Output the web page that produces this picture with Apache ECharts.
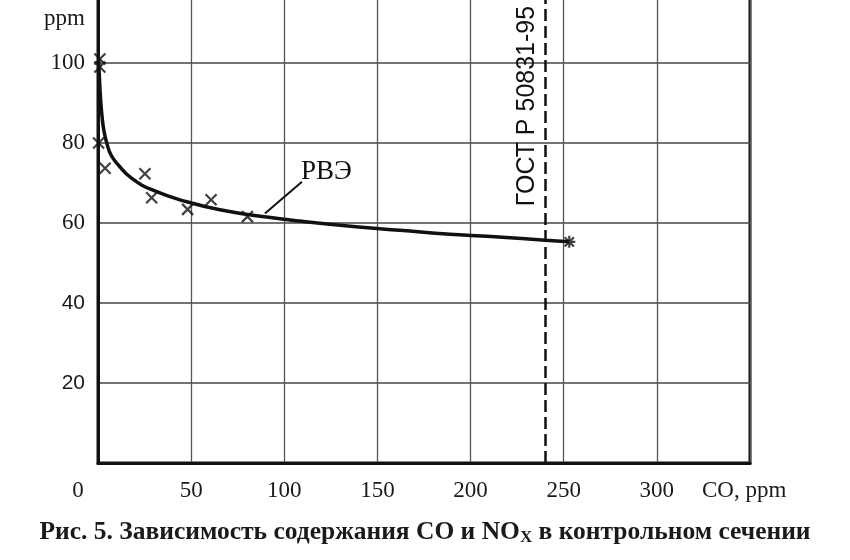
<!DOCTYPE html>
<html>
<head>
<meta charset="utf-8">
<title>CO и NOx</title>
<script src="https://cdn.jsdelivr.net/npm/echarts@6/dist/echarts.min.js"></script>
<style>
html, body { margin: 0; padding: 0; background: #fff; overflow: hidden; }
/* верх сетки уходит за край кадра, как на скане */
#chart { position: absolute; left: 0; top: -17px; width: 850px; height: 577px; }
</style>
</head>
<body>
<div id="chart"></div>
<script>
// кривая РВЭ
const curveCO = [0.4, 0.8, 1.4, 2.2, 3.2, 4.7, 7, 10.9, 18, 29.5, 47.6, 69, 90.5, 108, 140, 162, 189, 215, 240, 253]
const curveNOx = [101, 96, 91, 86.5, 83, 80, 77, 74.5, 71.2, 68.2, 65.3, 63, 61.5, 60.5, 59, 58.2, 57.2, 56.5, 55.7, 55.3]

// замеры (крестики)
const pointsCO = [1, 1, 0.3, 3.8, 25.2, 28.8, 48.1, 60.7, 80.2]
const pointsNOx = [101, 99, 80, 73.7, 72.3, 66.3, 63.4, 65.8, 61.6]

// последняя точка кривой
const endCO = [253]
const endNOx = [55.3]

// норматив
const gostCO = 240
const gostText = 'ГОСТ Р 50831-95'
const curveName = 'РВЭ'

const serif = '"Liberation Serif", "DejaVu Serif", serif'
const sans = '"Liberation Sans", Arial, sans-serif'

const cross = 'path://M0,0L10,10M10,0L0,10'
const star = 'path://M0,0L10,10M10,0L0,10M5,-1.5L5,11.5M-1.5,5L11.5,5'

const zip = (xs, ys) => xs.map((x, i) => [x, ys[i]])

let chart = echarts.init(document.getElementById('chart'))

let option = {
  backgroundColor: '#fff',
  animation: false,
  title: {
    text: '{a|Рис. 5. Зависимость содержания CO и NO}{s|X}{a| в контрольном сечении}',
    left: 'center',
    top: 531,
    textStyle: {
      rich: {
        a: { fontFamily: serif, fontSize: 25.5, fontWeight: 'bold', color: '#1a1a1a' },
        s: { fontFamily: serif, fontSize: 17, fontWeight: 'bold', color: '#1a1a1a', verticalAlign: 'bottom', padding: [10, 0, 0, 0] }
      }
    }
  },
  grid: {
    left: 98,
    right: 100,
    top: 0,
    bottom: 97,
    show: true,
    borderColor: '#111',
    borderWidth: 3
  },
  xAxis: {
    type: 'value',
    min: 0,
    max: 350,
    interval: 50,
    name: 'CO, ppm',
    nameLocation: 'end',
    nameGap: -48,
    nameTextStyle: {
      fontFamily: serif, fontSize: 23, color: '#1a1a1a',
      align: 'left', verticalAlign: 'top', padding: [16, 0, 0, 0]
    },
    axisLine: { lineStyle: { color: '#111', width: 3 } },
    axisTick: { show: false },
    splitLine: { lineStyle: { color: '#555', width: 1.3 } },
    axisLabel: {
      margin: 16,
      showMaxLabel: false,
      formatter: v => v === 0 ? '{z|0}' : '{n|' + v + '}',
      rich: {
        z: { fontFamily: serif, fontSize: 23, color: '#1a1a1a', padding: [0, 40, 0, 0] },
        n: { fontFamily: serif, fontSize: 23, color: '#1a1a1a' }
      }
    }
  },
  yAxis: {
    type: 'value',
    min: 0,
    max: 120,
    interval: 20,
    name: 'ppm',
    nameLocation: 'end',
    nameGap: -36,
    nameTextStyle: {
      fontFamily: serif, fontSize: 23, color: '#1a1a1a',
      align: 'right', verticalAlign: 'middle', padding: [0, 13, 0, 0]
    },
    axisLine: { lineStyle: { color: '#111', width: 3 } },
    axisTick: { show: false },
    splitLine: { lineStyle: { color: '#444', width: 1.6 } },
    axisLabel: {
      margin: 13,
      showMinLabel: false,
      showMaxLabel: false,
      formatter: v => v <= 40 ? '{s|' + v + '}' : '{r|' + v + '}',
      rich: {
        r: { fontFamily: serif, fontSize: 23, color: '#1a1a1a' },
        s: { fontFamily: sans, fontSize: 21, color: '#1a1a1a' }
      }
    }
  },
  series: [
    {
      name: curveName,
      type: 'line',
      data: zip(curveCO, curveNOx),
      showSymbol: false,
      smooth: 0.5,
      lineStyle: { color: '#111', width: 3.5 },
      markLine: {
        silent: true,
        symbol: ['none', 'none'],
        label: { show: false },
        data: [
          { xAxis: gostCO, lineStyle: { color: '#111', width: 2.5, type: [12, 5] } },
          [
            { coord: [89.6, 62.4], lineStyle: { color: '#111', width: 2, type: 'solid' } },
            { coord: [109.5, 70.3] }
          ]
        ]
      },
      markPoint: {
        silent: true,
        symbol: 'circle',
        symbolSize: 1,
        itemStyle: { color: 'rgba(0,0,0,0)' },
        data: [
          {
            coord: [122.6, 72.75],
            label: { show: true, position: 'inside', formatter: curveName, fontFamily: serif, fontSize: 27, color: '#111' }
          },
          {
            coord: [230.3, 89.25],
            label: { show: true, position: 'inside', rotate: 90, formatter: gostText, fontFamily: sans, fontSize: 25, color: '#111' }
          }
        ]
      }
    },
    {
      type: 'scatter',
      data: zip(pointsCO, pointsNOx),
      symbol: cross,
      symbolSize: 11,
      itemStyle: { color: 'none', borderColor: '#111', borderWidth: 2.2 }
    },
    {
      type: 'scatter',
      data: zip(endCO, endNOx),
      symbol: star,
      symbolSize: 12,
      itemStyle: { color: 'none', borderColor: '#111', borderWidth: 2.2 }
    }
  ]
}

chart.setOption(option)
</script>
</body>
</html>
